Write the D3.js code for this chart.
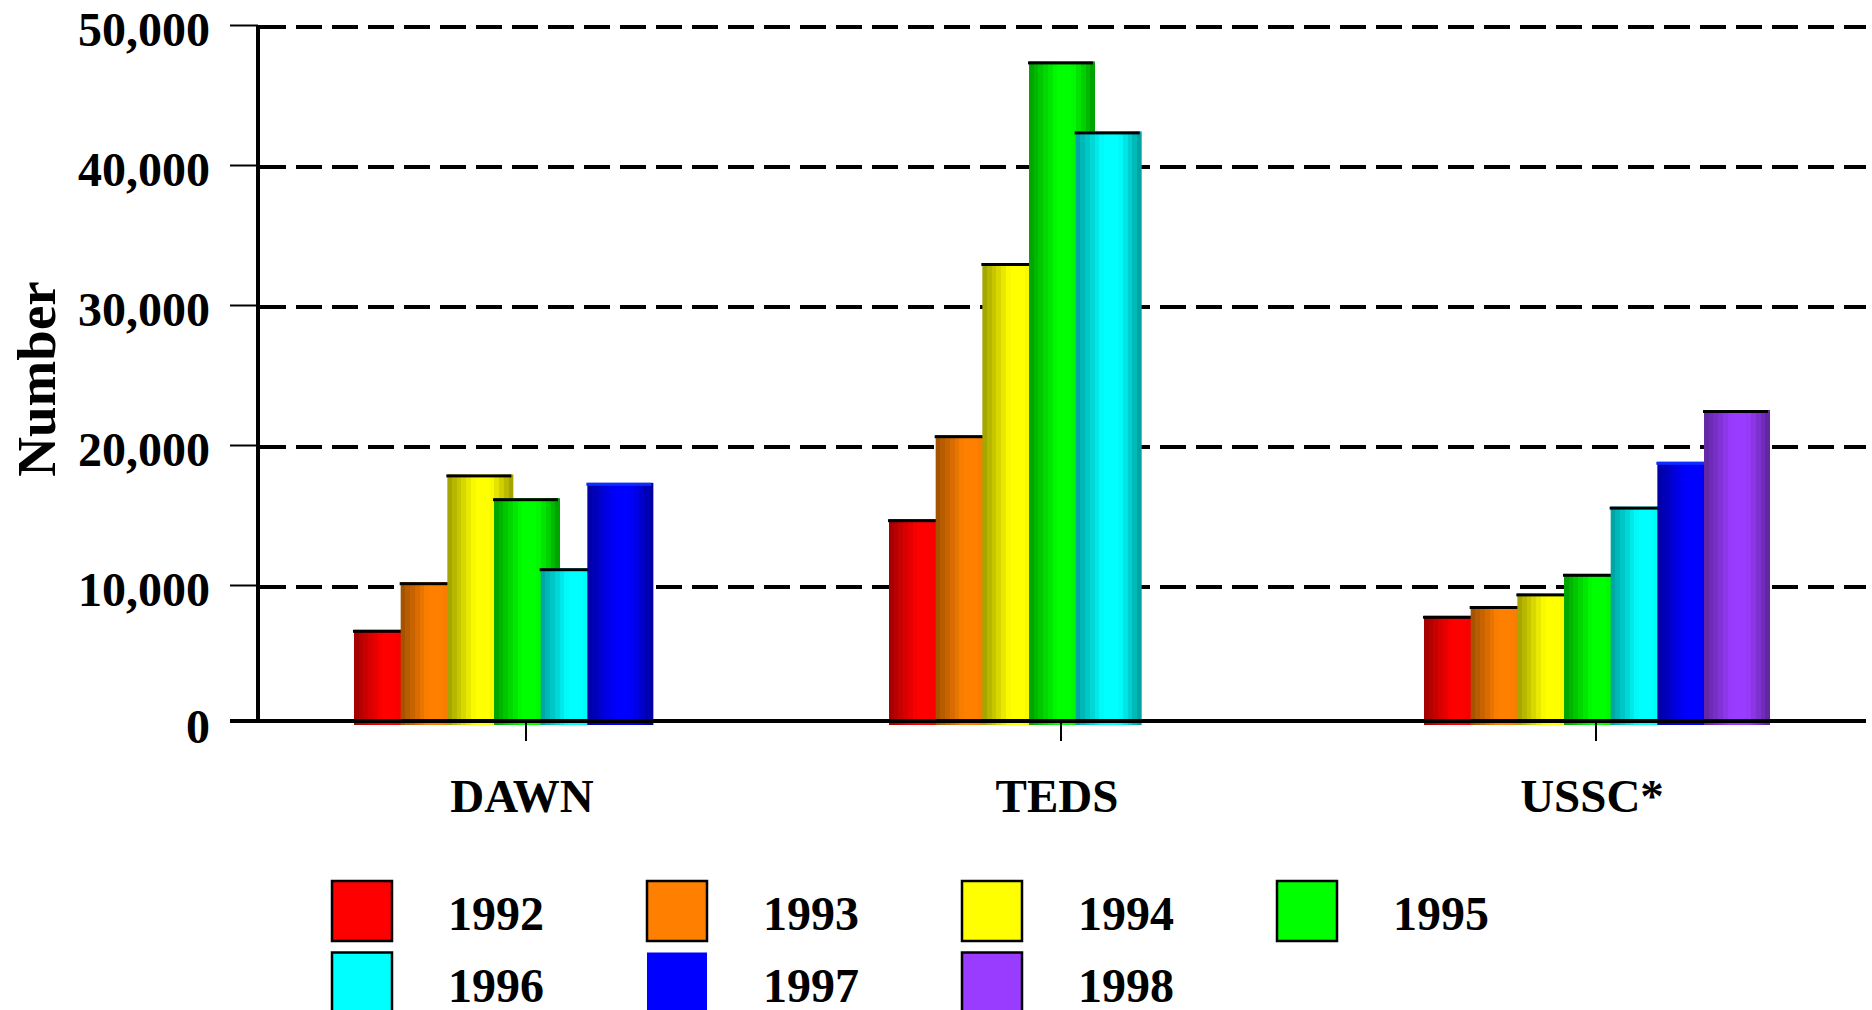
<!DOCTYPE html>
<html>
<head>
<meta charset="utf-8">
<script src="https://cdn.jsdelivr.net/npm/d3@7"></script>
<style>
  body { margin: 0; background: #fff; }
  text { font-family: "Liberation Serif", "Times New Roman", serif; font-weight: bold; fill: #000; }
</style>
</head>
<body>
<div id="viz"></div>
<script>
// chart values
var categories = ["DAWN", "TEDS", "USSC*"];
var years = ["1992", "1993", "1994", "1995", "1996", "1997", "1998"];
var yearColors = ["#ff0000", "#ff8000", "#ffff00", "#00ff00", "#00ffff", "#0000ff", "#9a3cff"];
var dawnValues = [6800, 10200, 17900, 16200, 11200, 17300, null];
var tedsValues = [14700, 20700, 33000, 47400, 42400, null, null];
var usscValues = [7800, 8500, 9400, 10800, 15600, 18800, 22500];
var yTicks = [0, 10000, 20000, 30000, 40000, 50000];

var seriesByCat = [dawnValues, tedsValues, usscValues];

var W = 1872, H = 1010;
var plotLeft = 258, plotRight = 1866, plotTop = 25, plotBottom = 725;

var svg = d3.select("#viz").append("svg")
  .attr("width", W)
  .attr("height", H);

var defs = svg.append("defs");

var y = d3.scaleLinear()
  .domain([0, 50000])
  .range([plotBottom, plotTop]);

var x0 = d3.scaleBand()
  .domain(categories)
  .range([258.5, 1863.5]);

var x1 = d3.scaleBand()
  .domain(years)
  .range([-172, -172 + 7 * 46.67]);

var barW = 66;

// cylinder like shading in stripes, dark edges and a bright middle
yearColors.forEach(function(c, i){
  var g = defs.append("linearGradient")
    .attr("id", "grad" + i)
    .attr("x1", "0%").attr("x2", "100%")
    .attr("y1", "0%").attr("y2", "0%");
  var n = 14;
  for (var k = 0; k < n; k++) {
    var t = (k + 0.5) / n;
    var f;
    if (t < 0.42) f = 0.62 + 0.38 * (t / 0.42);
    else if (t < 0.66) f = 1;
    else f = 1 - 0.4 * ((t - 0.66) / 0.34);
    var col = d3.rgb(c);
    var s = d3.rgb(col.r * f, col.g * f, col.b * f).toString();
    g.append("stop").attr("offset", (k / n * 100) + "%").attr("stop-color", s);
    g.append("stop").attr("offset", ((k + 1) / n * 100) + "%").attr("stop-color", s);
  }
});

// dashed gridlines
svg.append("g")
  .selectAll("line")
  .data(yTicks.filter(function(d){ return d > 0; }))
  .enter()
.append("line")
  .attr("x1", plotLeft + 2)
  .attr("x2", plotRight)
  .attr("y1", function(d){ return y(d) + 2; })
  .attr("y2", function(d){ return y(d) + 2; })
  .attr("stroke", "#000")
  .attr("stroke-width", 4)
  .attr("stroke-dasharray", "26,10");

// bars, each one with its cap, in order so later years sit over earlier ones
var bars = [];
categories.forEach(function(cat, ci){
  seriesByCat[ci].forEach(function(v, yi){
    if (v != null) bars.push({cat: cat, year: years[yi], yi: yi, value: v});
  });
});

var barG = svg.append("g");

bars.forEach(function(d){
  var bx = x0(d.cat) + x0.bandwidth() / 2 + x1(d.year);
  barG.append("rect")
    .attr("x", bx)
    .attr("y", y(d.value))
    .attr("width", barW)
    .attr("height", y(0) - y(d.value))
    .attr("fill", "url(#grad" + d.yi + ")");
  barG.append("rect")
    .attr("x", bx - 1)
    .attr("y", y(d.value))
    .attr("width", barW - 1)
    .attr("height", 3)
    .attr("fill", d.year === "1997" ? "#0a2cff" : "#000");
});

// zero line
svg.append("line")
  .attr("x1", 230)
  .attr("x2", plotRight)
  .attr("y1", y(0) - 4)
  .attr("y2", y(0) - 4)
  .attr("stroke", "#000")
  .attr("stroke-width", 4);

// y axis
var yAxis = svg.append("g")
  .attr("transform", "translate(" + plotLeft + ",0)")
  .call(d3.axisLeft(y)
    .tickValues(yTicks)
    .tickSize(28)
    .tickPadding(20)
    .tickFormat(d3.format(",")));

yAxis.select(".domain").remove();
yAxis.selectAll(".tick line")
  .attr("stroke", "#000")
  .attr("stroke-width", 2)
  .attr("display", function(d){ return d === 0 ? "none" : null; });
yAxis.selectAll(".tick text")
  .attr("dy", function(d){ return d === 0 ? "0.36em" : "0.42em"; })
  .style("font-size", "48px")
  .style("font-family", "'Liberation Serif', serif")
  .style("font-weight", "bold")
  .attr("fill", "#000");

svg.append("line")
  .attr("x1", plotLeft)
  .attr("x2", plotLeft)
  .attr("y1", plotTop)
  .attr("y2", y(0) - 2)
  .attr("stroke", "#000")
  .attr("stroke-width", 4);

// x axis
var xAxis = svg.append("g")
  .attr("transform", "translate(0," + (y(0) - 2) + ")")
  .call(d3.axisBottom(x0).tickSize(18).tickPadding(0));

xAxis.select(".domain").remove();
xAxis.selectAll(".tick line").attr("stroke", "#000").attr("stroke-width", 2);
xAxis.selectAll(".tick text")
  .attr("y", 89)
  .attr("x", -4)
  .attr("dy", 0)
  .style("font-size", "47px")
  .style("font-family", "'Liberation Serif', serif")
  .style("font-weight", "bold")
  .attr("fill", "#000");

// y title
svg.append("text")
  .attr("transform", "translate(55,379) rotate(-90)")
  .attr("text-anchor", "middle")
  .style("font-size", "55px")
  .text("Number");

// legend
var legend = svg.append("g")
  .selectAll("g")
  .data(years)
  .enter()
.append("g")
  .attr("transform", function(d, i){
    return "translate(" + (332 + (i % 4) * 315) + "," + (881 + Math.floor(i / 4) * 71.5) + ")";
  });

legend.append("rect")
  .attr("width", 60)
  .attr("height", 60)
  .attr("fill", function(d, i){ return yearColors[i]; })
  .attr("stroke", function(d){ return d === "1997" ? "none" : "#000"; })
  .attr("stroke-width", 2.5);

legend.append("text")
  .attr("x", 116)
  .attr("y", 49)
  .style("font-size", "48px")
  .text(function(d){ return d; });
</script>
</body>
</html>
